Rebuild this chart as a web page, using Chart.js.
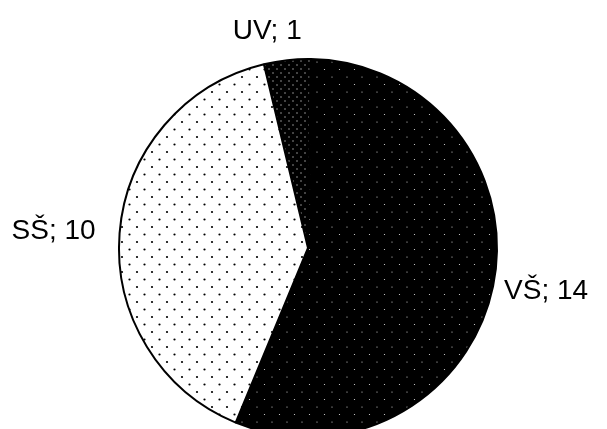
<!DOCTYPE html>
<html>
<head>
<meta charset="utf-8">
<script src="https://cdn.jsdelivr.net/npm/chart.js@4/dist/chart.umd.min.js"></script>
<style>
  html, body { margin: 0; padding: 0; background: #fff; overflow: hidden; }
  #wrap { position: relative; width: 607px; height: 445px; }
</style>
</head>
<body>
<div id="wrap"><canvas id="chart"></canvas></div>
<script>
// education level counts
const categories = ['UV', 'VŠ', 'SŠ'];
const counts = [1, 14, 10];

// dotted fills like the old print patterns
function makePattern(size, bg, dot, r, pts) {
    const c = document.createElement('canvas');
    c.width = size;
    c.height = size;
    const g = c.getContext('2d');
    g.fillStyle = bg;
    g.fillRect(0, 0, size, size);
    g.fillStyle = dot;
    pts.forEach(p => {
        g.beginPath();
        g.arc(p[0], p[1], r, 0, Math.PI * 2);
        g.fill();
    });
    return g.createPattern(c, 'repeat');
}

const ctx = document.getElementById('chart').getContext('2d');
const fills = [
    makePattern(8, '#000', '#bbb', 0.7, [[1, 1], [5, 5]]),
    makePattern(15, '#000', '#ddd', 0.6, [[2, 2], [9.5, 9.5]]),
    makePattern(15, '#fff', '#000', 1.1, [[2, 2], [9.5, 9.5]])
];

// label offsets from the slice's outer edge at its middle angle
const labelPlace = [
    { dx: -20, dy: -21, align: 'center' },
    { dx: 11, dy: 13, align: 'left' },
    { dx: -24, dy: 6, align: 'right' }
];

const sliceLabels = {
    id: 'sliceLabels',
    afterDatasetsDraw(chart) {
        const meta = chart.getDatasetMeta(0);
        const c = chart.ctx;
        c.save();
        c.font = '28px "Liberation Sans", Arial, sans-serif';
        c.fillStyle = '#000';
        c.textBaseline = 'alphabetic';
        meta.data.forEach((arc, i) => {
            const p = arc.getProps(['x', 'y', 'startAngle', 'endAngle', 'outerRadius']);
            const mid = (p.startAngle + p.endAngle) / 2;
            const ex = p.x + Math.cos(mid) * p.outerRadius;
            const ey = p.y + Math.sin(mid) * p.outerRadius;
            const pl = labelPlace[i];
            c.textAlign = pl.align;
            c.fillText(categories[i] + '; ' + counts[i], ex + pl.dx, ey + pl.dy);
        });
        c.restore();
    }
};

new Chart(ctx, {
    type: 'pie',
    data: {
        labels: categories,
        datasets: [{
            data: counts,
            backgroundColor: fills,
            borderColor: '#000',
            borderWidth: 2
        }]
    },
    options: {
        responsive: true,
        maintainAspectRatio: false,
        animation: false,
        rotation: -13.5,
        layout: { padding: { left: 118, right: 109, top: 58, bottom: 7 } },
        plugins: {
            legend: { display: false },
            tooltip: { enabled: false }
        }
    },
    plugins: [sliceLabels]
});
</script>
</body>
</html>
